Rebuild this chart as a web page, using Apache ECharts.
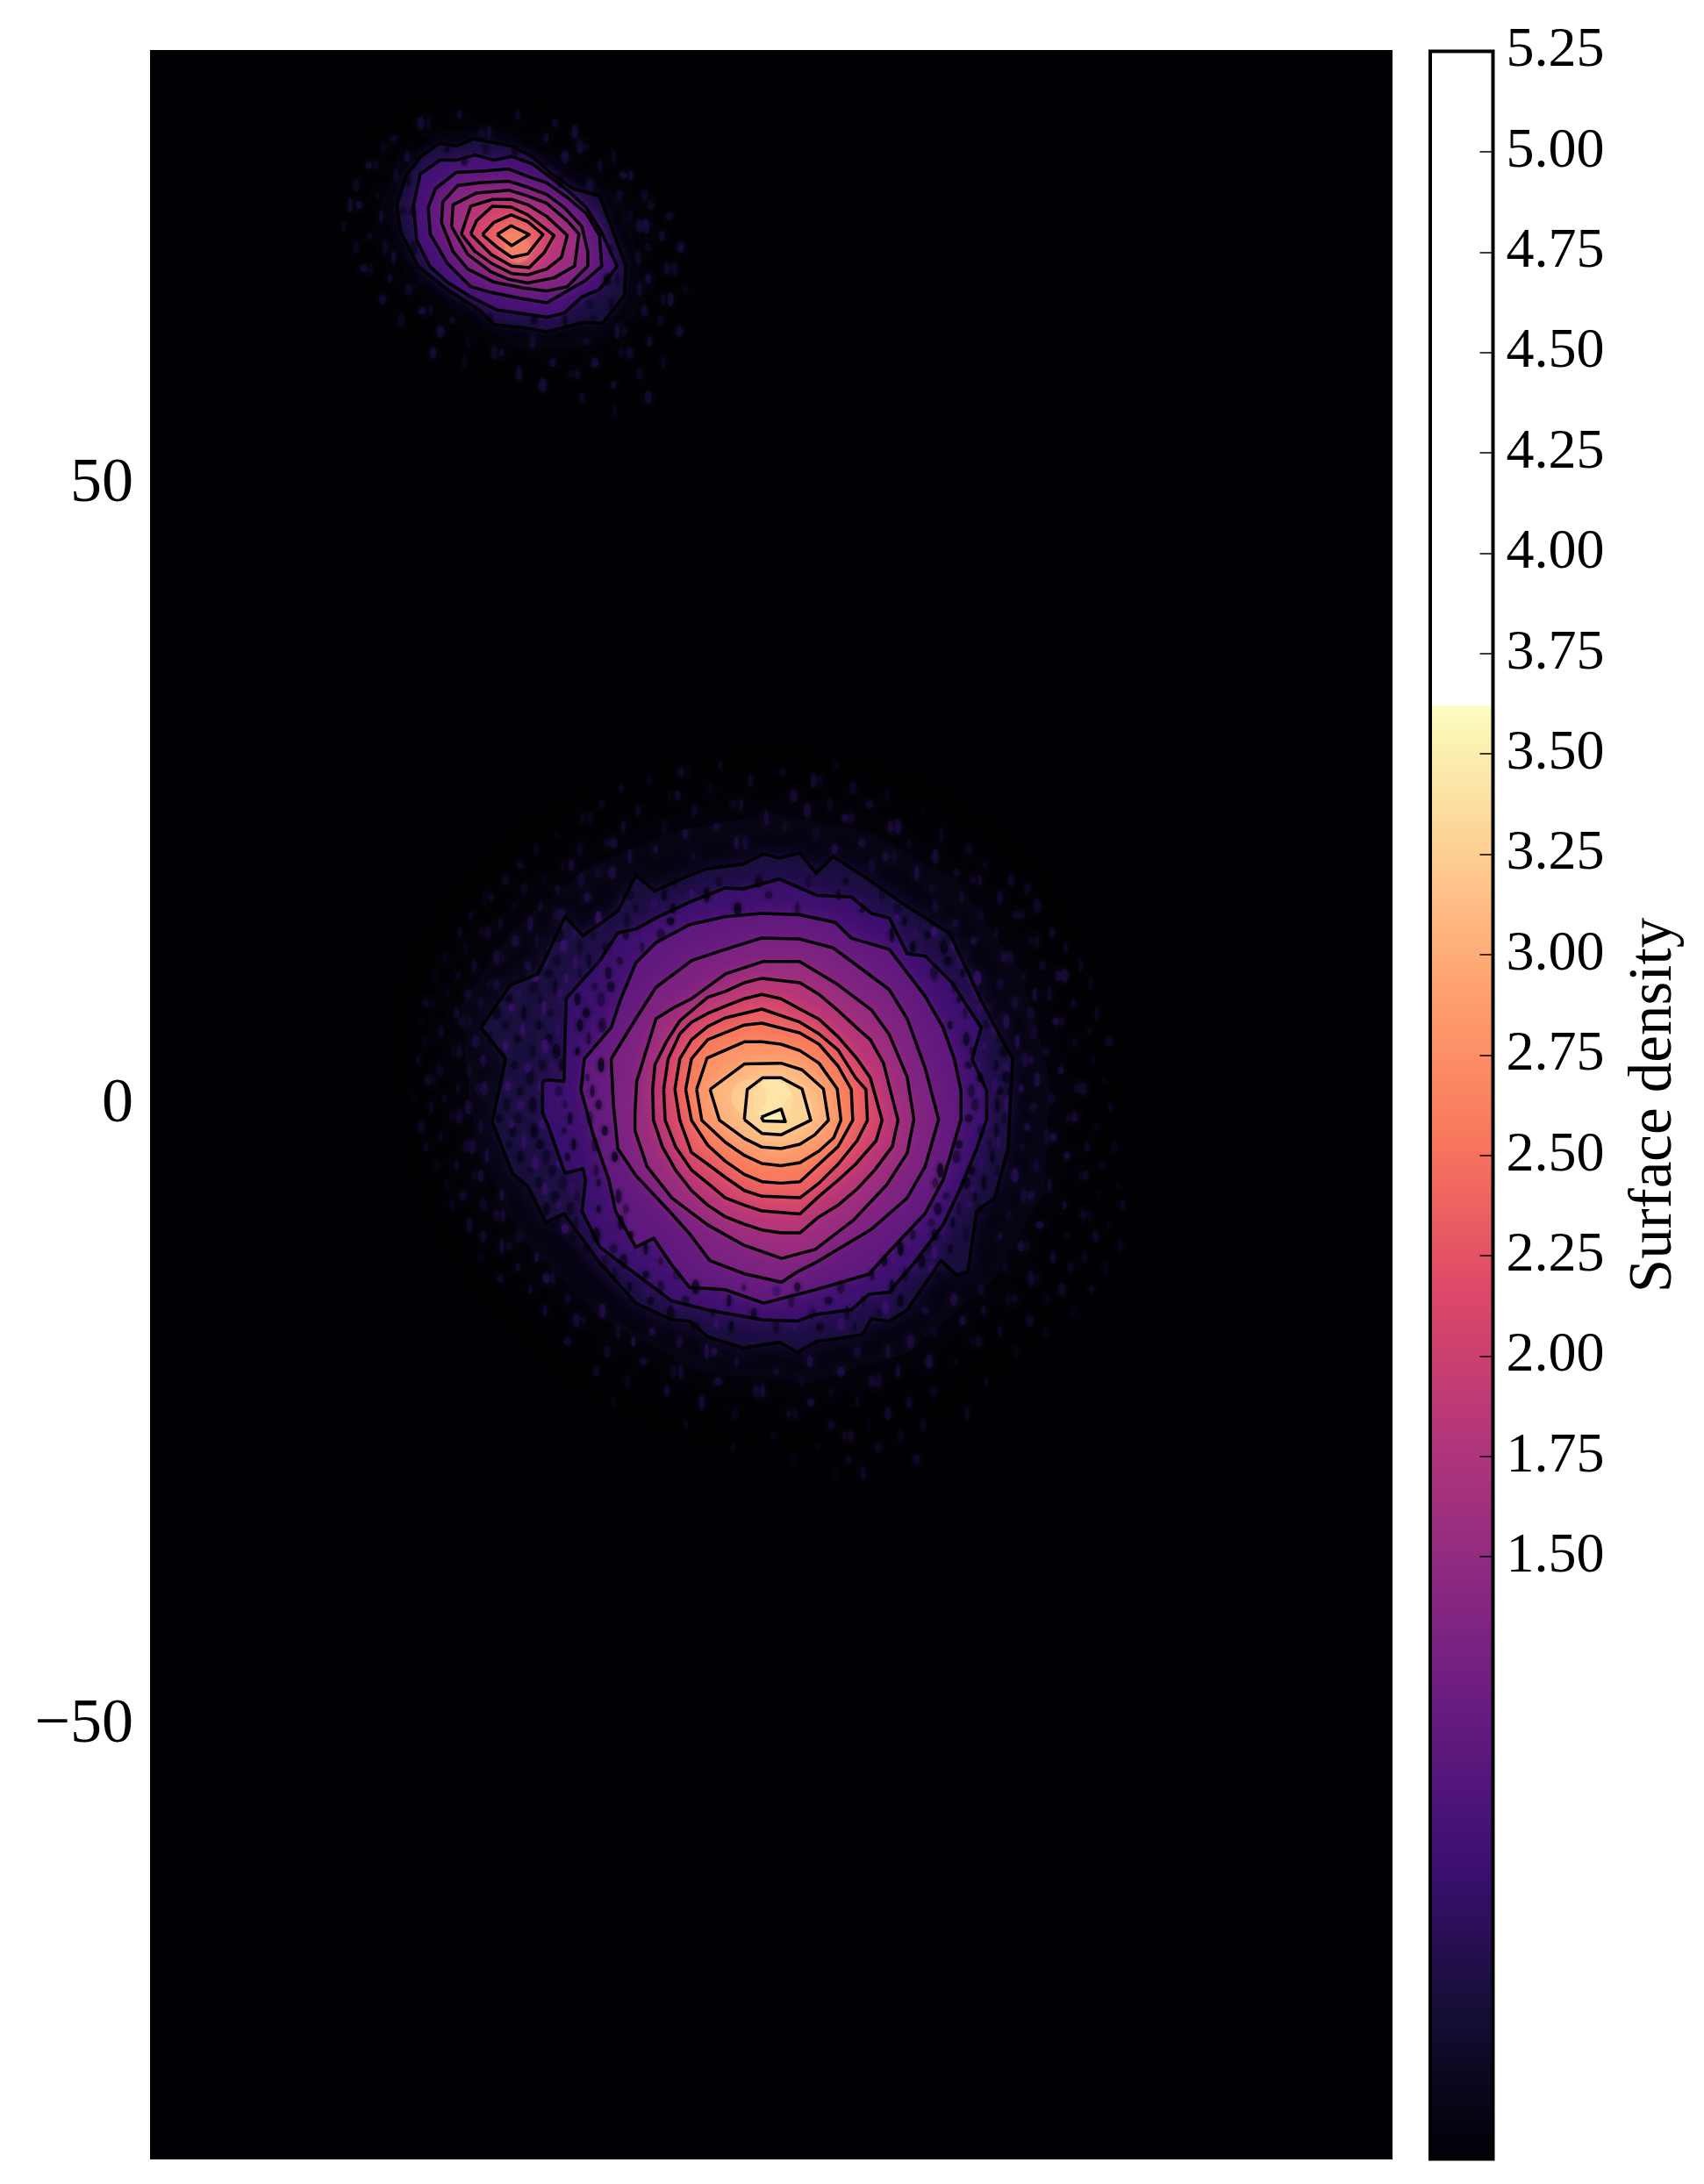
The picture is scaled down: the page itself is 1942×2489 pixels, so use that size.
<!DOCTYPE html>
<html>
<head>
<meta charset="utf-8">
<title>Surface density</title>
<script src="https://cdn.jsdelivr.net/npm/echarts@6/dist/echarts.min.js"></script>
<style>html,body{margin:0;padding:0;background:#fff}#chart{width:1942px;height:2489px}</style>
</head>
<body>
<div id="chart"></div>
<script>
// Tick labels
const yTicks = [-50, 0, 50];
const cbarTicks = [1.5, 1.75, 2, 2.25, 2.5, 2.75, 3, 3.25, 3.5, 3.75, 4, 4.25, 4.5, 4.75, 5, 5.25];
const cbarColourTop = 3.62;

// Contour levels, innermost first
const mainLevels = [3.5, 3.25, 3, 2.75, 2.5, 2.25, 2, 1.75, 1.5, 1.25, 1, 0.75, 0.5];
const satLevels = [2.5, 2.25, 2, 1.75, 1.5, 1.25, 1, 0.75, 0.5];

// Main body contours in data coordinates
const m0 = [[-0.8,-1.0],[0.8,-0.35],[1.13,-1.37],[-0.64,-1.3]];
const m1 = [[-2.17,-1.2],[-1.93,1.23],[-0.7,2.17],[0.78,2.17],[2.48,1.27],[3.18,-1.25],[0.78,-2.43],[-0.75,-2.31]];
const m2 = [[-4.93,1.23],[-2.17,3.28],[0.78,3.35],[2.48,2.81],[4.2,1.27],[4.6,-1.25],[3.49,-2.43],[2.31,-3.18],[0.78,-3.54],[-0.75,-3.42],[-2.17,-2.71],[-4.17,-1.25]];
const m3 = [[-6.01,1.23],[-5.17,3.75],[-2.17,5.07],[-0.75,5.07],[0.78,4.88],[2.31,4.36],[3.84,3.35],[5.31,1.27],[5.61,-1.25],[5.02,-2.67],[3.84,-3.73],[2.31,-4.67],[0.78,-4.91],[-0.75,-4.74],[-2.17,-4.08],[-3.7,-3.02],[-5.59,-1.25]];
const m4 = [[-6.89,1.23],[-6.42,3.7],[-5.12,5.24],[-2.17,6.42],[-0.75,6.58],[2.31,5.78],[3.84,4.88],[5.38,3.11],[6.44,1.23],[6.56,-1.25],[5.38,-3.37],[3.84,-4.79],[2.31,-6.2],[0.78,-6.32],[-0.75,-6.2],[-2.17,-5.61],[-3.7,-4.55],[-5.12,-3.25],[-6.42,-1.25]];
const m5 = [[-7.76,1.23],[-7.36,3.7],[-6.42,5.24],[-5.12,6.3],[-3.7,7.0],[-0.75,7.71],[2.31,6.65],[3.84,5.71],[5.38,4.41],[6.79,2.17],[7.62,1.23],[7.74,-1.25],[6.91,-2.9],[5.38,-4.79],[3.84,-6.32],[2.31,-7.5],[-0.75,-7.38],[-2.17,-6.91],[-3.7,-5.85],[-5.12,-4.79],[-6.42,-3.84],[-7.36,-1.25]];
const m6 = [[-8.66,1.23],[-8.3,3.7],[-7.36,5.71],[-6.42,6.65],[-5.12,7.36],[-3.7,7.95],[-2.17,8.54],[-0.75,8.89],[0.78,8.54],[2.31,7.71],[3.84,6.89],[5.38,5.47],[6.91,3.7],[7.97,2.17],[8.92,-1.25],[8.44,-2.9],[6.79,-4.79],[5.38,-6.08],[3.84,-7.38],[2.31,-8.8],[-0.75,-8.56],[-2.17,-8.09],[-3.7,-7.5],[-5.12,-6.32],[-6.42,-5.26],[-7.71,-3.37],[-8.54,-1.25]];
const m7 = [[-9.55,1.23],[-9.36,3.23],[-8.42,5.12],[-7.36,6.77],[-5.12,8.66],[-3.7,9.13],[-2.17,9.83],[-0.75,10.19],[2.31,9.83],[3.84,8.89],[5.38,7.59],[6.91,6.18],[7.97,5.24],[9.03,3.35],[10.2,-1.25],[9.74,-3.37],[8.33,-5.26],[6.91,-6.79],[5.38,-8.09],[3.84,-9.03],[2.31,-10.33],[0.78,-10.33],[-0.75,-10.09],[-2.17,-9.62],[-3.7,-9.03],[-5.12,-8.09],[-6.42,-6.91],[-7.71,-5.26],[-8.77,-3.37],[-9.48,-1.25]];
const m8 = [[-10.97,-0.65],[-10.83,1.88],[-9.28,6.93],[-7.83,7.83],[-6.39,8.56],[-3.68,10.54],[-0.61,11.55],[2.27,11.55],[5.16,9.82],[8.05,7.65],[9.49,5.67],[10.94,2.24],[11.48,-1.19],[10.94,-3.9],[9.31,-6.43],[6.61,-9.31],[3.54,-11.66],[0.83,-12.38],[-2.24,-11.3],[-5.13,-9.68],[-8.01,-7.51],[-10,-4.98],[-10.97,-2.09]];
const m9 = [[-12.89,3.68],[-10.9,6.93],[-9.28,9.46],[-6.39,11.62],[-3.68,12.53],[-0.79,13.43],[2.27,13.36],[4.98,12.64],[8.05,10.36],[9.49,9.28],[10.94,6.93],[12.38,2.96],[13.47,-1.19],[12.38,-4.98],[10.94,-7.51],[8.05,-10.04],[3.54,-12.74],[2.09,-13.47],[0.83,-14.3],[-2.06,-13.65],[-4.95,-12.56],[-6.57,-10.4],[-8.19,-8.59],[-10.9,-5.7],[-12.35,-3.54],[-12.71,0.07]];
const m10 = [[-15.31,1.16],[-15.05,3.68],[-12.89,6.21],[-12.17,8.38],[-10.9,11.44],[-9.28,13.07],[-6.57,14.51],[-3.68,15.16],[-0.79,15.42],[2.27,15.31],[5.16,14.69],[6.43,13.43],[9.49,12.53],[12.38,8.74],[13.83,6.21],[14.73,3.68],[15.27,1.16],[15.27,-1.19],[13.83,-6.06],[12.38,-8.77],[9.49,-11.84],[7.87,-13.65],[3.54,-14.91],[-0.61,-15.99],[-3.68,-14.91],[-6.57,-14.73],[-8.01,-12.92],[-9.46,-10.76],[-10.9,-11.48],[-12.53,-8.59],[-13.07,-6.06],[-14.33,-2.45]];
const m11 = [[-18.41,1.88],[-17.94,1.99],[-16.68,1.88],[-16.61,5.13],[-16.5,8.56],[-13.79,11.62],[-12.35,13.86],[-10.9,14.15],[-9.28,15.05],[-6.57,16.32],[-3.68,17.47],[-2.24,17.4],[0.65,18.19],[3.72,16.86],[6.43,16.75],[8.05,15.42],[9.49,15.05],[10.94,12.17],[12.38,11.99],[14.55,9.82],[16.9,6.21],[16.17,3.68],[17.33,1.16],[17.33,-1.19],[16.53,-3.54],[15.27,-6.61],[13.83,-9.68],[11.66,-12.56],[9.49,-15.09],[7.87,-15.27],[6.43,-16.53],[3.54,-16.9],[2.09,-17.44],[-0.79,-17.33],[-5.13,-16.53],[-8.01,-15.81],[-10.9,-13.65],[-13.79,-11.48],[-15.23,-8.59],[-14.95,-6.06],[-15.16,-5.16],[-16.61,-5.52],[-17.94,-1.73],[-18.41,-0.65]];
const m12 = [[-23.36,6.21],[-21.01,9.64],[-18.77,10.54],[-16.61,15.16],[-15.16,13.61],[-12.35,15.6],[-10.9,18.48],[-9.39,17.22],[-6.57,18.48],[-5.13,19.03],[-2.24,19.39],[-0.61,20.22],[0.65,19.86],[2.27,20.29],[3.61,18.66],[4.98,20],[7.87,18.12],[10.94,15.96],[14.37,13.79],[16.9,8.38],[19.42,3.68],[19.06,-3.54],[17.98,-7.51],[16.53,-8.59],[15.81,-13.47],[14.91,-13.72],[13.65,-12.56],[10.94,-16.53],[9.49,-17.44],[8.05,-17.26],[7.33,-18.52],[5.16,-18.88],[3.72,-19.06],[2.09,-19.96],[0.65,-19.13],[-2.24,-19.6],[-5.13,-18.7],[-6.57,-17.44],[-8.01,-17.33],[-10.9,-15.99],[-13.79,-12.74],[-16.68,-8.77],[-18.12,-9.49],[-19.57,-6.61],[-20.83,-5.52],[-22.46,-1.37],[-21.37,3.68]];
const mainRings = [m0, m1, m2, m3, m4, m5, m6, m7, m8, m9, m10, m11, m12];

// Satellite contours in data coordinates
const s0 = [[-22.07,70.13],[-20.94,70.84],[-19.48,70.13],[-20.89,69.23]];
const s1 = [[-23.25,70.13],[-22.31,71.12],[-20.94,71.71],[-19.6,71.17],[-18.37,70.13],[-19.6,68.57],[-20.89,68.29],[-22.07,69.12]];
const s2 = [[-24.19,70.18],[-23.72,71.24],[-22.43,72.42],[-20.94,72.34],[-19.6,71.71],[-17.48,70.06],[-18.3,68.64],[-19.48,67.47],[-20.89,67.58],[-22.54,68.53]];
const s3 = [[-24.95,70.18],[-24.19,72.42],[-22.43,72.96],[-20.89,72.96],[-19.6,72.53],[-18.07,71.59],[-16.42,70.06],[-16.89,68.29],[-18.07,67.35],[-19.6,66.88],[-20.89,66.99],[-22.54,67.82],[-23.84,68.76]];
const s4 = [[-25.73,70.77],[-25.61,72.53],[-23.72,73.48],[-21.13,73.71],[-19.6,73.24],[-18.07,72.65],[-16.42,71.24],[-15.48,70.18],[-15.83,67.58],[-17.48,66.64],[-19.6,66.22],[-21.13,66.52],[-22.54,67.11],[-24.43,68.53]];
const s5 = [[-26.55,71.12],[-26.43,72.77],[-25.25,74.07],[-23.49,74.3],[-21.13,74.42],[-19.6,73.95],[-18.07,73.36],[-16.65,72.3],[-15.24,70.77],[-14.77,68.76],[-14.77,67.58],[-16.42,65.93],[-18.07,65.58],[-19.95,65.82],[-22.31,66.29],[-24.43,67.35],[-25.61,68.76]];
const s6 = [[-27.61,72.3],[-27.02,73.83],[-25.37,75.13],[-23.25,75.24],[-21.13,75.41],[-19.48,74.77],[-18.07,74.3],[-16.42,73.12],[-14.89,71.83],[-13.83,70.06],[-13.64,67.58],[-15,66.4],[-18.07,64.64],[-20.19,64.99],[-22.54,65.46],[-24.19,65.93],[-26.08,67.82],[-27.45,70.18]];
const s7 = [[-28.79,72.53],[-28.25,75.01],[-26.67,76.12],[-25.37,76.12],[-23.84,76.54],[-22.31,76.12],[-20.89,76.42],[-19.25,75.83],[-17.83,74.77],[-16.42,73.71],[-14.89,72.3],[-13.71,70.41],[-12.41,67.58],[-13.83,65.7],[-15.24,65.11],[-16.65,63.81],[-18.07,63.46],[-19.6,63.69],[-22.07,64.05],[-24.19,65.11],[-26.08,66.29],[-27.49,67.58],[-28.55,69.7]];
const s8 = [[-30.13,72.53],[-29.38,74.89],[-28.2,76.42],[-26.67,77.48],[-25.37,77.25],[-23.96,77.84],[-20.89,77.25],[-19.25,76.42],[-17.83,75.13],[-15.95,73.83],[-13.83,73.24],[-12.88,70.77],[-11.71,67.58],[-11.82,65.23],[-13.59,62.99],[-15.12,63.06],[-18.07,62.28],[-19.95,62.63],[-22.31,62.87],[-23.49,64.05],[-26.08,65.7],[-28.43,67.58],[-29.85,70.41]];
const satRings = [s0, s1, s2, s3, s4, s5, s6, s7, s8];

// Faint envelopes outside the last contour (no outline is drawn for these)
const mainHalo = [[-25,8],[-21,14],[-15,19],[-8,22],[0,23.5],[8,22],[15,18],[20,11],[22.5,2],[22,-7],[18,-14],[11,-20],[3,-22.5],[-6,-21.5],[-14,-17],[-20,-11],[-24,-3]];
const satHalo = [[-31.5,72.5],[-30,76],[-26.5,78.6],[-21,78.4],[-16,75.5],[-12,73],[-10.5,68],[-11,63.5],[-15,61],[-20,60.8],[-25,63.5],[-29.5,67]];

// Brightest spots, which do not fall exactly on the innermost contours
const peaks = [[0.1, 0.4, 3.58, 46], [-20.4, 68.9, 2.72, 30], [-1.8, 0.6, 3.3, 40], [2.1, -0.4, 3.3, 34]];

// Faint grains outside the last contour, listed row by row as [y, [x...]]
const mainGrainRows = [
  [27.4,[-4.1,5.2]],[26.8,[-7.3,-6.6,0.9]],[26.1,[-9.8,-1.7,3.4,3.9]],[25.5,[-12.1,-4.9,6.6]],[24.9,[-8.2,-7.5,1.8,9.3]],
  [24.2,[-13.6,-3.1,-2.4,4.7,7.9]],[23.7,[-10.7,-6.2,2.9,12.2]],[23.1,[-15.2,-14.6,-0.4,5.9,6.4]],[22.4,[-11.9,-8.6,-4.4,1.1,9.6,10.2]],
  [21.8,[-17.3,-6.9,3.6,13.7]],[21.1,[-13.2,-12.7,-2.8,-2.1,7.3,11.1]],[20.6,[-18.9,-15.4,-9.3,5.1,15.9]],[20,[-11.4,-6.3,9.2,9.9,13.2]],
  [19.3,[-20.2,-16.8,-16.1,8.1,17.2]],[18.7,[-13.9,-12.8,11.7,14.9]],[18.1,[-21.4,-18.3,-15.3,16.2,16.8,19.3]],[17.4,[-19.9,-17.2,12.9,20.6]],
  [16.7,[-23.1,-22.6,-14.8,15.3,18.4]],[16,[-20.7,-18.6,13.2,21.4]],[15.3,[-24.2,-17.3,-16.9,16.9,19.7,20.1]],[14.6,[-21.8,-19.4,14.8]],
  [13.9,[-25.1,-23.3,-22.8,18.1,22.6]],[13.2,[-20.6,-18.9,16.3,20.9,21.4]],[12.6,[-24.6,-17.8,23.7]],[11.9,[-26.3,-22.1,-21.6,18.7,19.2]],
  [11.2,[-23.9,-19.6,21.8,24.9]],[10.4,[-27.1,-25.2,20.3,23.1,23.6]],[9.7,[-22.7,-22.1,18.4,25.7]],[8.9,[-26.1,-24.4,21.2,22.4]],
  [8.2,[-27.8,-27.2,-23.4,19.6,24.3]],[7.4,[-25.3,20.9,26.2]],[6.7,[-28.1,-24.9,-24.3,18.9,22.9,23.4]],[5.9,[-26.6,21.1,25.6]],
  [5.1,[-27.9,-23.8,19.8,24.4,27.2]],[4.3,[-25.6,-25.1,22.1]],[3.6,[-28.4,-23.2,20.4,20.9,25.9]],[2.8,[-26.7,-24.3,23.3]],
  [2,[-27.6,-27.1,21.4,26.8]],[1.3,[-25.2,-23.6,-23.1,20.1,24.6,25.1]],[0.5,[-28.8,-26.3,22.6]],[-0.2,[-27.4,-24.4,21.1,27.3]],
  [-1,[-25.7,-25.1,23.9,24.4]],[-1.8,[-28.2,-23.4,20.6,26.1]],[-2.6,[-26.6,22.2,22.7]],[-3.4,[-27.8,-24.6,-24.1,20.2,25.4,27.6]],
  [-4.1,[-22.9,23.8]],[-4.9,[-26.9,-25.3,21.3,26.6]],[-5.7,[-23.9,-23.4,19.6,24.9,25.3]],[-6.5,[-26.1,22.4,27.9]],
  [-7.3,[-24.8,-21.7,20.3,20.9,26.3]],[-8.1,[-25.7,-23.2,23.6,28.3]],[-8.9,[-22.1,-21.6,19.1,25.1,25.6]],[-9.7,[-24.3,21.6,27.2]],
  [-10.6,[-23.2,-20.3,18.4,23.8,26.1]],[-11.4,[-21.7,-21.1,20.1,20.6,28.1]],[-12.3,[-23.4,-18.9,22.7,25.2]],[-13.1,[-20.4,18.8,24.1,26.9]],
  [-14,[-21.8,-18.1,-17.6,20.9,21.4]],[-14.9,[-19.4,16.9,23.4,25.8]],[-15.7,[-16.4,14.7,19.1,19.6,22.2]],[-16.6,[-18.2,-13.6,12.4,17.1,24.3]],
  [-17.4,[-15.7,-15.1,15.4,20.8]],[-18.3,[-12.3,-9.6,13.1,18.4,22.1]],[-19.1,[-16.4,-11.1,-7.4,11.2,16.2,16.7]],[-19.9,[-13.2,-5.2,-4.6,6.9,9.4,19.7]],
  [-20.7,[-10.3,-2.8,3.1,12.7,14.9]],[-21.5,[-14.1,-7.9,-7.3,0.4,5.6,10.2]],[-22.3,[-11.6,-4.3,2.4,8.1,8.6,17.3]],[-23.1,[-8.4,-1.2,-0.7,4.8,13.1]],
  [-24,[-12.7,-5.6,3.2,6.9,11.1]],[-24.9,[-2.9,1.4,1.9,9.4,15.8]],[-25.8,[-6.9,4.8,7.9,12.2]],[-26.7,[0.2,5.9,6.4,10.4]],
  [-27.6,[-3.1,3.7,8.6]],[-28.6,[1.8,6.2,11.7]],[-29.7,[5.1,7.4]]
];
const satGrainRows = [
  [79.8,[-25.1,-20.4]],[79.1,[-28.2,-27.6,-17.4]],[78.4,[-23.3,-22.7,-15.8]],[77.9,[-30.4,-18.1]],[77.2,[-31.2,-15.4,-14.9]],
  [76.4,[-29.3,-16.6,-12.7]],[75.7,[-32.4,-31.8,-13.8]],[74.9,[-30.2,-11.9,-11.3]],[74.1,[-33.4,-14.6]],[73.3,[-31.7,-12.2,-10.2]],
  [72.5,[-33.9,-33.2,-9.7]],[71.6,[-31.4,-11.4,-8.2]],[70.8,[-34.4,-10.6,-10.1]],[70,[-32.3,-8.8]],[69.1,[-33.4,-31.1,-9.9,-7.3]],
  [68.3,[-30.4,-10.7]],[67.4,[-32.8,-32.2,-8.4,-7.8]],[66.6,[-30.7,-9.9]],[65.7,[-29.2,-10.6,-6.9]],[64.9,[-31.3,-8.7,-8.1]],
  [64,[-28.1,-27.4,-10.2]],[63.2,[-29.8,-25.7,-8.9]],[62.3,[-26.6,-12.4,-11.8,-7.4]],[61.5,[-24.4,-19.2,-14.9,-9.8]],
  [60.6,[-27.2,-22.3,-21.7,-12.1,-11.4]],[59.8,[-24.7,-17.6,-14.2,-8.7]],[58.9,[-20.3,-16.1,-15.6,-10.6]],[58,[-18.4,-12.7]],
  [57,[-15.2,-9.9]],[56,[-12.6]]
];

// Brighter mottling inside the last contour band
const mainMottleRows = [
  [17,[-6.4,-2.1,1.3]],[16.2,[-12.1,-9.4,4.4,7.1]],[15,[-13.9,-5,10.1]],[13.9,[-15.8,-10.6,11.6,13.1]],[12.8,[-16.7,-12,14.6]],
  [11.5,[-18.2,-15.8,15.2]],[10.2,[-19,-16.5,15.9,16.6]],[9,[-20.3,-17,16.4]],[7.8,[-18.3,-20.9,16.8]],[6,[-20,-17.2,15.4,17.9]],
  [4.7,[-21.4,-18.2,17.1]],[3,[-19.6,-17.6,16.7,18.9]],[1.5,[-21.2,-18.6,18]],[0,[-20.2,-17.8,17.3,19]],[-1.6,[-20.9,-18.4,17.2]],
  [-3,[-19.9,-17.1,16.2,18.3]],[-4.7,[-19,-17,16.9]],[-6.8,[-18.2,-16.1,16.2]],[-8,[-17.1,-14.6,14.2,15.9]],[-10,[-16.6,-13,13.8]],
  [-11.9,[-13.6,-11,13.1]],[-13.2,[-11.2,-8.6,11.7,12.9]],[-15,[-9.9,-4.6,0.4,6.4,8.4]],[-16.3,[-7.6,-1.9,3.1,9.2]],[-17.7,[-4.4,1.9,5.6]]
];

// Dark holes in the mottled outer bands, listed the same way
const mainHoleRows = [
  [18,[-7.8,-4.2,-1,3,6]],[16.9,[-11.4,-8.6,-5.2,-0.2,5.4,8.9]],[15.8,[-13.7,-10.9,-7.9,-2.7,2.1,7.3,10.2]],
  [14.8,[-15.2,-11.6,-8.1,10.7,12.9]],[13.7,[-17.1,-14.3,-11.7,-8.9,9.7,12.6,14.4]],[12.7,[-18.1,-15.4,-13.3,-10.4,11.4,13.9,15.3]],
  [11.6,[-19.2,-17.3,-14.7,-12.2,14.2,16.4]],[10.6,[-20.1,-17.9,-15.4,-13.1,13.1,15.4,17.3]],[9.5,[-19.1,-17.4,-14.2,-12.9,14.7,16.9]],
  [8.5,[-21.1,-18.6,-15.6,-13.7,15.1,17.4]],[7.4,[-22.1,-19.9,-17.8,-14.9,15.6,18.1]],[6.4,[-21.4,-18.7,-15.4,-13.6,14.4,17.3,18.6]],
  [5.3,[-22.6,-20.4,-17.9,-14.7,15.7,18.4]],[4.3,[-21.6,-19.2,-17.3,-15.6,16.2,18.7]],[3.2,[-22.9,-20.7,-18.4,-16.9,-13.7,15.9,18.1]],
  [2.2,[-21.9,-19.4,-14.8,16.8,18.9]],[1.1,[-22.4,-20.2,-17.1,-14.4,16.1,18.4,19.2]],[0,[-21.3,-19.2,-16.6,-13.9,16.4,18.2]],
  [-1.1,[-21.9,-20.4,-16.2,-14.6,15.9,18.7]],[-2.1,[-20.8,-19.1,-16.7,-13.4,16.9,18.1]],[-3.2,[-21.1,-18.6,-15.9,-14.2,15.1,17.6]],
  [-4.2,[-20.2,-18.1,-16.4,-12.6,14.9,17.8]],[-5.3,[-19.4,-17.6,-14.1,13.6,16.1,18.2]],[-6.3,[-18.7,-16.8,-13.9,13.2,15.7,17.1]],
  [-7.4,[-19.3,-17.4,-15.6,-12.3,14.1,16.4]],[-8.4,[-18.1,-16.2,-13.9,-11.7,13.4,15.1,16.8]],[-9.5,[-17.4,-15.7,-12.1,12.9,14.6]],
  [-10.5,[-15.9,-14.1,-11.3,11.4,13.2,15.7]],[-11.6,[-14.8,-12.7,-10.1,10.4,12.7,14.4]],[-12.6,[-13.4,-11.9,-8.9,9.1,12.1]],
  [-13.7,[-12.6,-10.1,-7.6,8.1,10.8,13.3]],[-14.7,[-11.4,-8.9,-6.1,-2.2,2.1,5.6,9.7]],[-15.8,[-9.7,-6.9,-3.4,1.6,4.6,7.4,10.4]],
  [-16.8,[-8.1,-4.7,-1.4,3.3,6.1,8.7]],[-17.9,[-6.1,-3.2,0.4,3.9,6.7]]
];
const satHoleRows = [
  [77,[-26.1,-23,-20.6]],[76,[-28.7,-24.7,-18.2]],[74.5,[-29.2,-17]],[72,[-29.6,-28.9,-13.2]],
  [69,[-28.8,-12.9]],[66.5,[-28.2,-13.2,-12.4]],[64.5,[-24.8,-14.6,-12.9]],[63.2,[-22.6,-19.1,-16.6,-14.3]]
];

const fromRows = rows => rows.flatMap(([y, xs]) => xs.map(x => [x, y]));

// magma palette stops
const magma = ['#000004','#140e36','#3b0f70','#641a80','#8c2981','#b5367a','#de4968','#f8765c','#fe9f6d','#fecf92','#fcfdbf'];

function hexRgb(h) {
  return [1, 3, 5].map(i => parseInt(h.substr(i, 2), 16));
}
// Colour of a density value on the colour bar scale
function levelColour(v) {
  const t = Math.min(Math.max(v / cbarColourTop, 0), 1) * (magma.length - 1);
  const i = Math.min(Math.floor(t), magma.length - 2);
  const a = hexRgb(magma[i]), b = hexRgb(magma[i + 1]), f = t - i;
  const c = a.map((p, k) => Math.round(p + (b[k] - p) * f));
  return 'rgb(' + c.join(',') + ')';
}

// Filled bands, drawn outermost first so each one sits on the previous.
// The two outermost main bands are noisy, so their base colour is a little lower.
const mainFill = i => (i === 12 ? 0.4 : i === 11 ? 0.7 : mainLevels[i] + 0.04);
const bands = [
  { pts: mainHalo, level: 0.1, blur: 70 },
  { pts: satHalo, level: 0.07, blur: 40 }
];
for (let i = mainRings.length - 1; i >= 0; i--) {
  bands.push({ pts: mainRings[i], level: mainFill(i), blur: i === 12 ? 22 : i > 8 ? 40 : 24 });
}
for (let i = satRings.length - 1; i >= 0; i--) {
  bands.push({ pts: satRings[i], level: i === 8 ? 0.4 : satLevels[i] + 0.04, blur: i === 8 ? 12 : i > 5 ? 20 : 16 });
}

const contourSeries = mainRings.concat(satRings).map(r => ({
  type: 'line', xAxisIndex: 0, yAxisIndex: 0, z: 6, silent: true, animation: false,
  showSymbol: false, symbol: 'none', clip: true,
  lineStyle: { color: '#000', width: 3.5, join: 'round' },
  data: r.concat([r[0]])
}));

// Speckle layer: strength and size of each speck cycle so the layer does not read as a lattice
const strengths = [1, 0.55, 0.85, 0.4, 0.7, 0.5, 0.95];
const speckle = (points, colour, base, z, fade) => ({
  type: 'scatter', xAxisIndex: 0, yAxisIndex: 0, z: z, silent: true, animation: false,
  symbol: 'circle',
  symbolSize: (v, p) => [5 + (p.dataIndex % 3) * 1.8, 9 + (p.dataIndex % 4) * 2.6],
  data: points.map((p, i) => ({
    value: p,
    itemStyle: {
      color: colour,
      opacity: base * strengths[i % strengths.length] * (fade ? fade(p) : 1),
      shadowBlur: 6,
      shadowColor: colour
    }
  }))
});
// Main body grains dim towards the edge of their envelope
const mainFade = p => Math.max(0.35, 1 - (Math.hypot(p[0], p[1]) - 18) * 0.07);

const serif = '"Liberation Serif", "DejaVu Serif", serif';
const option = {
  backgroundColor: '#fff',
  animation: false,
  grid: [
    { left: 171, top: 57, width: 1416, height: 2404, show: true, backgroundColor: '#000004', borderWidth: 0 },
    { left: 1630, top: 58.5, width: 71.5, height: 2402, show: true, backgroundColor: '#fff', borderWidth: 0 }
  ],
  xAxis: [
    { gridIndex: 0, type: 'value', min: -50, max: 50, show: false },
    { gridIndex: 1, type: 'value', min: 0, max: 1, show: false }
  ],
  yAxis: [
    {
      gridIndex: 0, type: 'value', min: -85, max: 85, splitLine: { show: false },
      axisLine: { show: false, onZero: false }, axisTick: { show: false },
      axisLabel: {
        customValues: yTicks, margin: 19, fontFamily: serif, fontSize: 72, color: '#000',
        padding: [0, 0, 10, 0],
        formatter: v => (v < 0 ? '\u2212' + Math.abs(v) : String(v))
      }
    },
    {
      gridIndex: 1, type: 'value', min: 0, max: 5.25, position: 'right', z: 8,
      splitLine: { show: false }, axisLine: { show: false, onZero: false },
      axisTick: { show: true, inside: true, length: 15, customValues: cbarTicks, lineStyle: { color: '#000', width: 1.5 } },
      axisLabel: {
        customValues: cbarTicks, margin: 15, fontFamily: serif, fontSize: 64, color: '#000',
        padding: [0, 0, 10, 0],
        formatter: v => v.toFixed(2)
      },
      name: 'Surface density', nameLocation: 'middle', nameGap: 150, nameRotate: 90, nameMoveOverlap: false,
      nameTextStyle: { fontFamily: serif, fontSize: 69, color: '#000' }
    }
  ],
  series: [
    {
      type: 'custom', xAxisIndex: 0, yAxisIndex: 0, z: 2, silent: true, animation: false, clip: true,
      data: bands.map((b, i) => [i]),
      renderItem: (params, api) => {
        const b = bands[api.value(0)];
        const colour = levelColour(b.level);
        return {
          type: 'polygon',
          shape: { points: b.pts.map(p => api.coord(p)) },
          style: { fill: colour, shadowBlur: b.blur, shadowColor: colour }
        };
      }
    },
    speckle(fromRows(mainHoleRows), '#07041a', 0.8, 3),
    speckle(fromRows(satHoleRows), '#07041a', 0.7, 3),
    speckle(fromRows(mainMottleRows), levelColour(0.72), 0.7, 4),
    speckle(fromRows(mainGrainRows), levelColour(0.55), 0.8, 4, mainFade),
    speckle(fromRows(satGrainRows), levelColour(0.45), 0.6, 4),
    {
      type: 'scatter', xAxisIndex: 0, yAxisIndex: 0, z: 5, silent: true, animation: false,
      symbol: 'circle',
      symbolSize: v => v[3],
      itemStyle: {
        color: p => levelColour(p.value[2]),
        opacity: 0.55,
        shadowBlur: 26,
        shadowColor: 'rgba(254,210,150,0.85)'
      },
      data: peaks
    },
    ...contourSeries,
    {
      // Colour bar body with its white upper part left open
      type: 'custom', xAxisIndex: 1, yAxisIndex: 1, z: 2, silent: true, animation: false,
      data: [[cbarColourTop]],
      renderItem: (params, api) => {
        const a = api.coord([0, api.value(0)]);
        const b = api.coord([1, 0]);
        return {
          type: 'rect',
          shape: { x: a[0], y: a[1], width: b[0] - a[0], height: b[1] - a[1] },
          style: {
            fill: new echarts.graphic.LinearGradient(0, 1, 0, 0,
              magma.map((c, i) => ({ offset: i / (magma.length - 1), color: c })))
          }
        };
      }
    },
    {
      // Colour bar outline
      type: 'custom', xAxisIndex: 1, yAxisIndex: 1, z: 7, silent: true, animation: false,
      data: [[5.25]],
      renderItem: (params, api) => {
        const a = api.coord([0, api.value(0)]);
        const b = api.coord([1, 0]);
        return {
          type: 'rect',
          shape: { x: a[0], y: a[1], width: b[0] - a[0], height: b[1] - a[1] },
          style: { fill: null, stroke: '#000', lineWidth: 4 }
        };
      }
    }
  ]
};

const chart = echarts.init(document.getElementById('chart'), null, { renderer: 'canvas', width: 1942, height: 2489 });
chart.setOption(option);
</script>
</body>
</html>
